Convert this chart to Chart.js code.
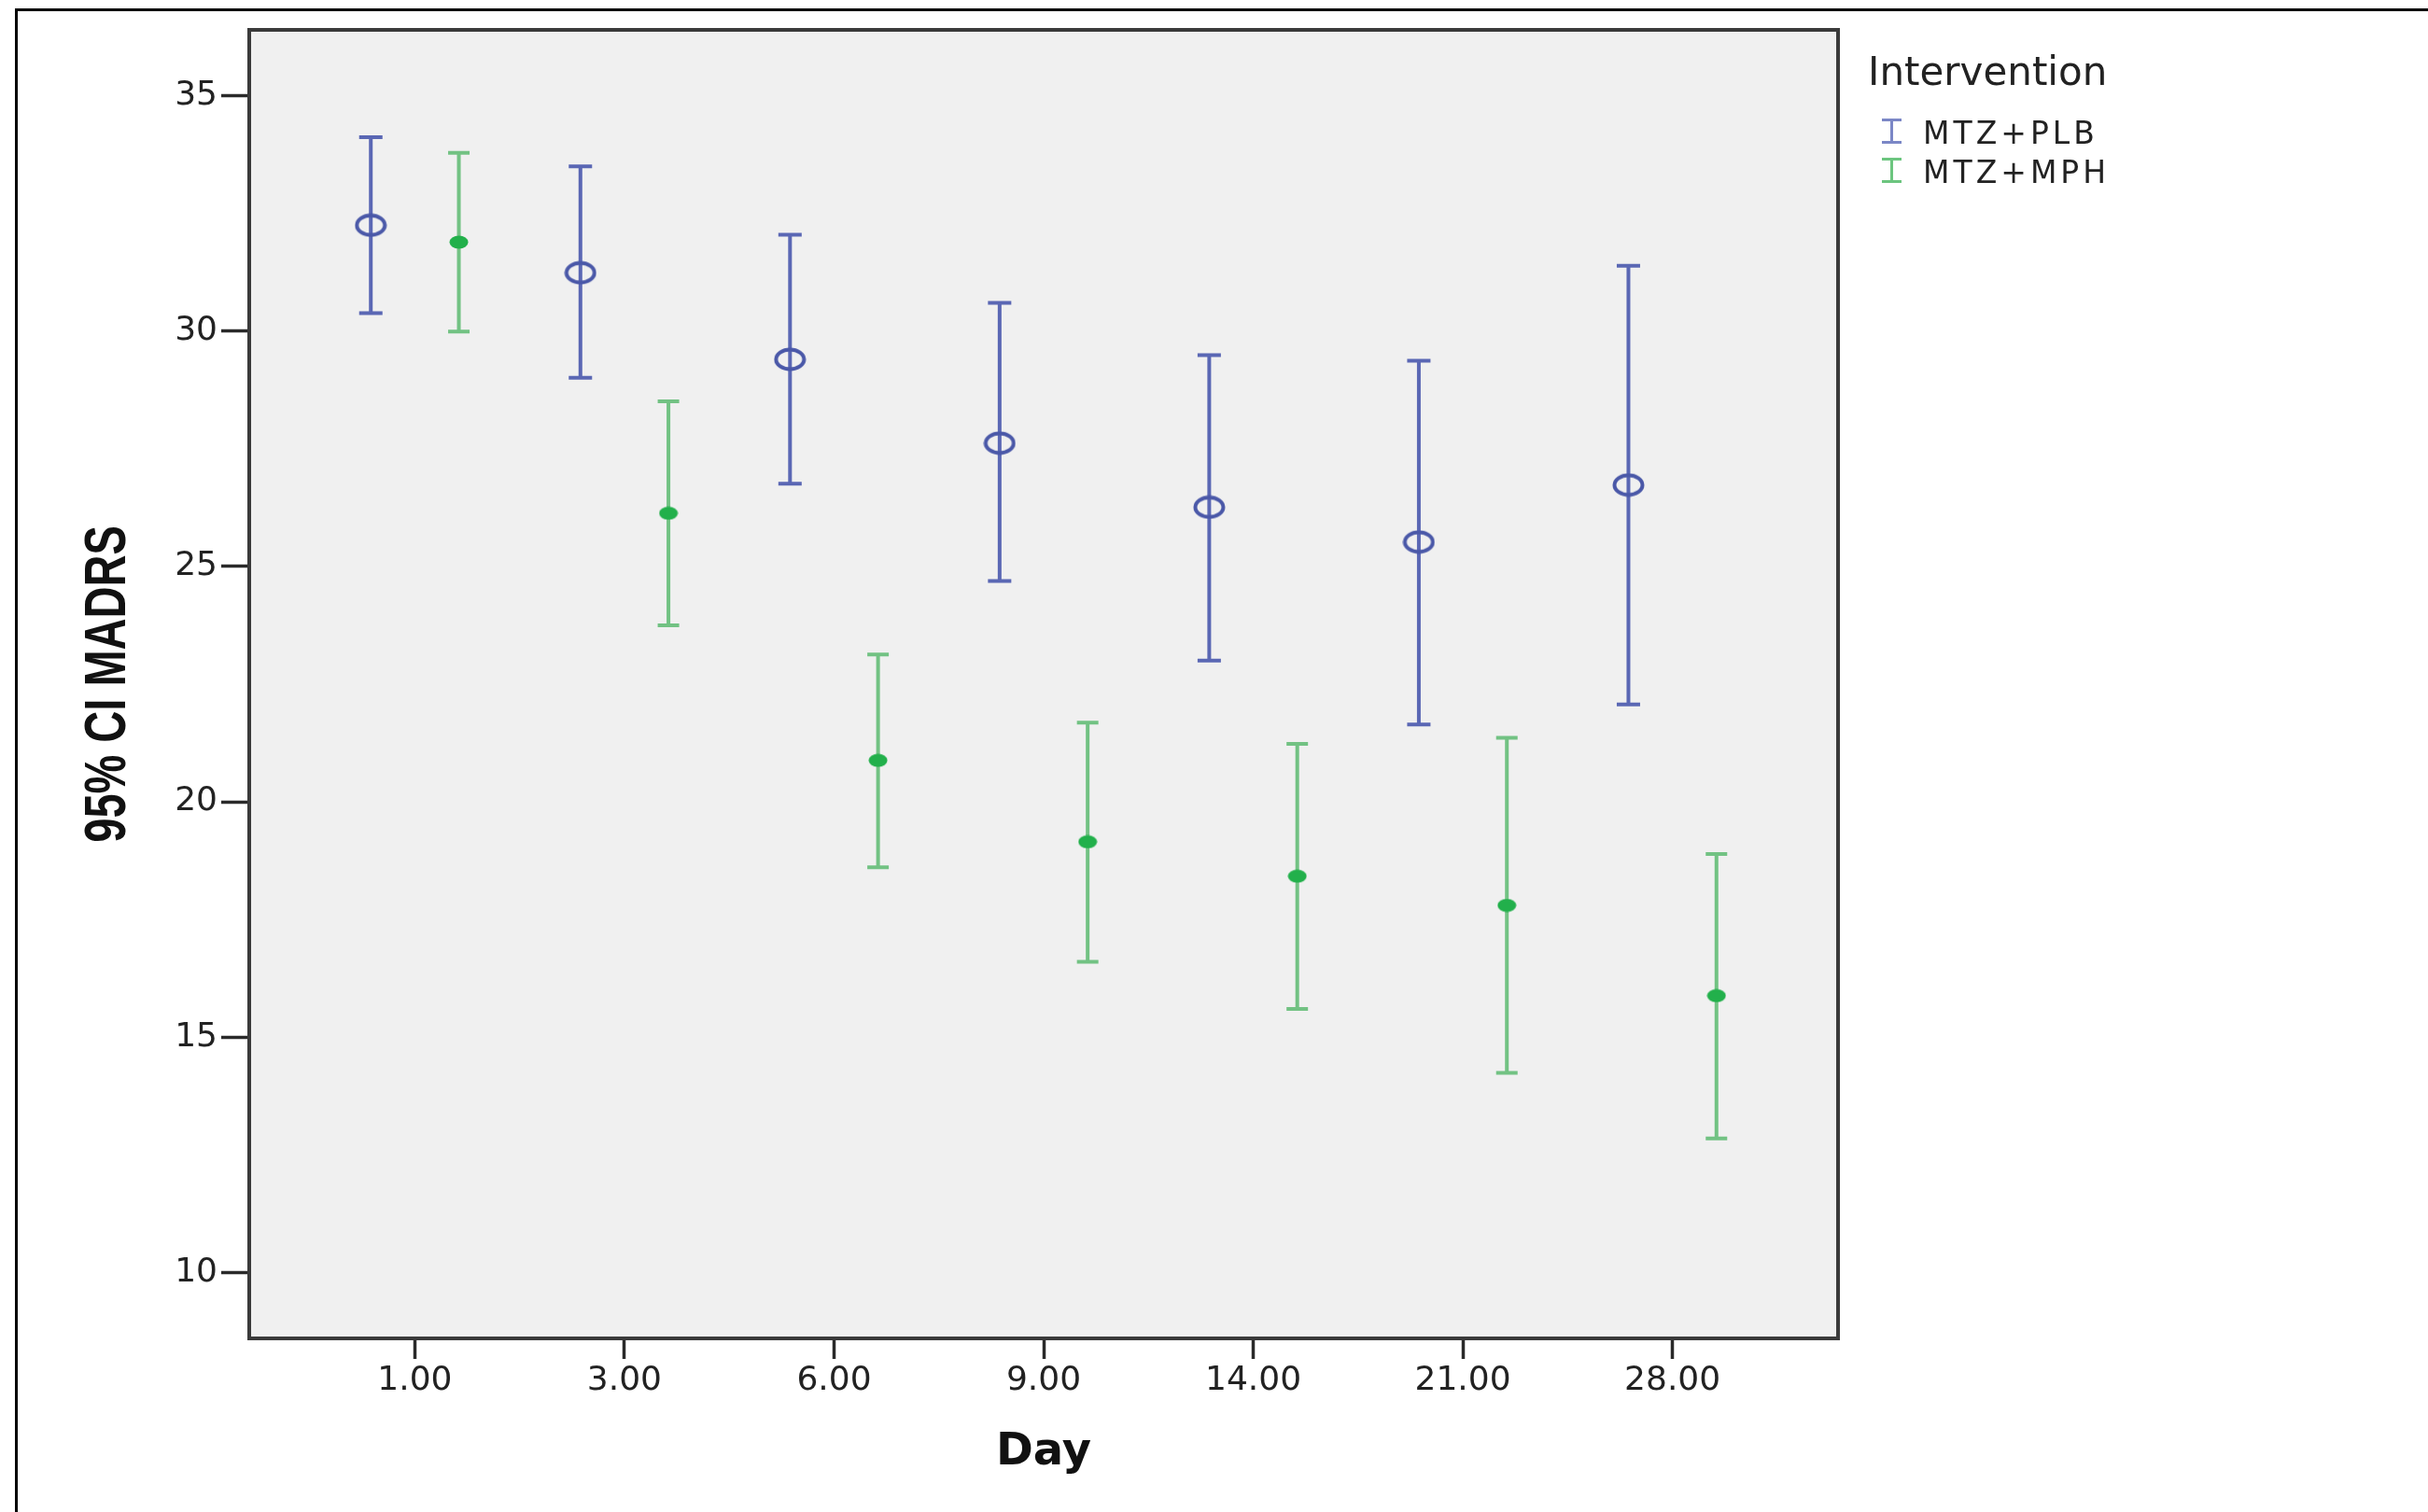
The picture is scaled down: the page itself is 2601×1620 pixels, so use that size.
<!DOCTYPE html>
<html>
<head>
<meta charset="utf-8">
<script src="https://cdn.jsdelivr.net/npm/chart.js@4.4.1/dist/chart.umd.min.js"></script>
<style>
    body { margin: 0; background: #fff; }
    #wrap { position: relative; width: 2601px; height: 1620px; overflow: hidden; background: #fff; }
    #frame { position: absolute; left: 16px; top: 9px; right: -10px; bottom: -10px; border-left: 3px solid #000; border-top: 3px solid #000; }
    #chart { position: absolute; left: 0; top: 0; }
    .leg { position: absolute; font-family: "DejaVu Sans", sans-serif; color: #222; line-height: 1; white-space: nowrap; }
    .ico { position: absolute; width: 21px; height: 27px; box-sizing: border-box; border-top: 3px solid; border-bottom: 3px solid; }
    .ico::after { content: ''; position: absolute; left: 9px; top: 0; bottom: 0; width: 3px; background: currentColor; }
</style>
</head>
<body>
<div id="wrap">
    <div id="frame"></div>
    <canvas id="chart" width="2601" height="1620"></canvas>
    <div class="leg" style="left:2001px; top:56px; font-size:42px;">Intervention</div>
    <div class="ico" style="left:2016px; top:127px; color:#7b87c6;"></div>
    <div class="leg" style="left:2060px; top:126px; font-size:33px; letter-spacing:4px;">MTZ+PLB</div>
    <div class="ico" style="left:2016px; top:169px; color:#6cc57f;"></div>
    <div class="leg" style="left:2060px; top:168px; font-size:33px; letter-spacing:4px;">MTZ+MPH</div>
</div>
<script>
// categories (Day)
const days = ['1.00', '3.00', '6.00', '9.00', '14.00', '21.00', '28.00'];
const yTicks = [10, 15, 20, 25, 30, 35];

// MTZ+PLB
const plbMean = [32.25, 31.24, 29.40, 27.62, 26.26, 25.52, 26.73];
const plbLow  = [30.38, 29.01, 26.76, 24.69, 23.00, 21.64, 22.07];
const plbHigh = [34.12, 33.50, 32.05, 30.60, 29.49, 29.37, 31.39];

// MTZ+MPH
const mphMean = [31.89, 26.13, 20.88, 19.15, 18.42, 17.80, 15.88];
const mphLow  = [29.99, 23.75, 18.61, 16.60, 15.60, 14.24, 12.85];
const mphHigh = [33.79, 28.51, 23.13, 21.68, 21.23, 21.36, 18.89];

const shift = 0.21; // cluster offset of the two groups

function ellipseIcon(w, h, lw, stroke, fill) {
    const c = document.createElement('canvas');
    c.width = w;
    c.height = h;
    const g = c.getContext('2d');
    g.beginPath();
    g.ellipse(w / 2, h / 2, w / 2 - lw / 2 - 0.5, h / 2 - lw / 2 - 0.5, 0, 0, Math.PI * 2);
    if (fill) {
        g.fillStyle = fill;
        g.fill();
    }
    if (stroke) {
        g.lineWidth = lw;
        g.strokeStyle = stroke;
        g.stroke();
    }
    return c;
}

// background + frame of the plot area, plus the (condensed) y axis title
const plotFrame = {
    id: 'plotFrame',
    beforeDraw(chart) {
        const a = chart.chartArea;
        const ctx = chart.ctx;
        ctx.save();
        ctx.fillStyle = '#f0f0f0';
        ctx.fillRect(a.left, a.top, a.right - a.left, a.bottom - a.top);
        ctx.restore();
    },
    afterDraw(chart) {
        const a = chart.chartArea;
        const ctx = chart.ctx;
        ctx.save();
        ctx.strokeStyle = '#3a3a3a';
        ctx.lineWidth = 4;
        ctx.strokeRect(a.left, a.top, a.right - a.left, a.bottom - a.top);
        ctx.restore();

        // y title, stretched across like the original
        ctx.save();
        ctx.translate(117, (a.top + a.bottom) / 2);
        ctx.rotate(-Math.PI / 2);
        ctx.scale(1, 1.35);
        ctx.font = "bold 47px 'Liberation Sans'";
        ctx.fillStyle = '#111';
        ctx.textAlign = 'center';
        ctx.textBaseline = 'middle';
        ctx.fillText('95% CI MADRS', 0, 0);
        ctx.restore();
    }
};

// vertical CI bars with caps
const errorBars = {
    id: 'errorBars',
    beforeDatasetsDraw(chart) {
        const ctx = chart.ctx;
        const ys = chart.scales.y;
        chart.data.datasets.forEach(function (ds, i) {
            const meta = chart.getDatasetMeta(i);
            ctx.save();
            ctx.strokeStyle = ds.barColor;
            ctx.lineWidth = ds.barWidth;
            meta.data.forEach(function (pt, j) {
                const x = pt.x;
                const y1 = ys.getPixelForValue(ds.errLow[j]);
                const y2 = ys.getPixelForValue(ds.errHigh[j]);
                const half = ds.capWidth / 2;
                ctx.beginPath();
                ctx.moveTo(x, y1);
                ctx.lineTo(x, y2);
                ctx.moveTo(x - half, y1);
                ctx.lineTo(x + half, y1);
                ctx.moveTo(x - half, y2);
                ctx.lineTo(x + half, y2);
                ctx.stroke();
            });
            ctx.restore();
        });
    }
};

const tickFont = { family: 'DejaVu Sans', size: 36 };

new Chart(document.getElementById('chart'), {
    type: 'scatter',
    data: {
        datasets: [{
            label: 'MTZ+PLB',
            data: plbMean.map((v, i) => ({ x: i - shift, y: v })),
            errLow: plbLow,
            errHigh: plbHigh,
            barColor: '#5a67b4',
            barWidth: 4,
            capWidth: 25,
            pointStyle: ellipseIcon(35, 26, 4, '#4a58a8', null),
            pointRadius: 13
        }, {
            label: 'MTZ+MPH',
            data: mphMean.map((v, i) => ({ x: i + shift, y: v })),
            errLow: mphLow,
            errHigh: mphHigh,
            barColor: '#72c283',
            barWidth: 4,
            capWidth: 23,
            pointStyle: ellipseIcon(21, 15, 0, null, '#22b04b'),
            pointRadius: 8
        }]
    },
    options: {
        responsive: false,
        animation: false,
        devicePixelRatio: 1,
        layout: {
            padding: { left: 0, top: 32, right: 632, bottom: 0 }
        },
        plugins: {
            legend: { display: false },
            tooltip: { enabled: false }
        },
        scales: {
            x: {
                type: 'linear',
                min: -0.79,
                max: 6.79,
                afterBuildTicks: s => { s.ticks = days.map((d, i) => ({ value: i })); },
                afterFit: s => { s.height = 186; },
                border: { display: false },
                grid: {
                    drawOnChartArea: false,
                    drawTicks: true,
                    tickLength: 22,
                    tickWidth: 3.5,
                    color: '#2a2a2a'
                },
                ticks: {
                    font: tickFont,
                    color: '#222',
                    padding: 2,
                    maxRotation: 0,
                    callback: v => days[v]
                },
                title: {
                    display: true,
                    text: 'Day',
                    color: '#111',
                    font: { family: 'DejaVu Sans', size: 48, weight: 'bold' },
                    padding: { top: 0, bottom: 35 }
                }
            },
            y: {
                min: 8.6,
                max: 36.4,
                afterBuildTicks: s => { s.ticks = yTicks.map(v => ({ value: v })); },
                afterFit: s => { s.width = 267; },
                border: { display: false },
                grid: {
                    drawOnChartArea: false,
                    drawTicks: true,
                    tickLength: 30,
                    tickWidth: 3.5,
                    color: '#2a2a2a'
                },
                ticks: {
                    font: tickFont,
                    color: '#222',
                    padding: 4
                }
            }
        }
    },
    plugins: [plotFrame, errorBars]
});
</script>
</body>
</html>
